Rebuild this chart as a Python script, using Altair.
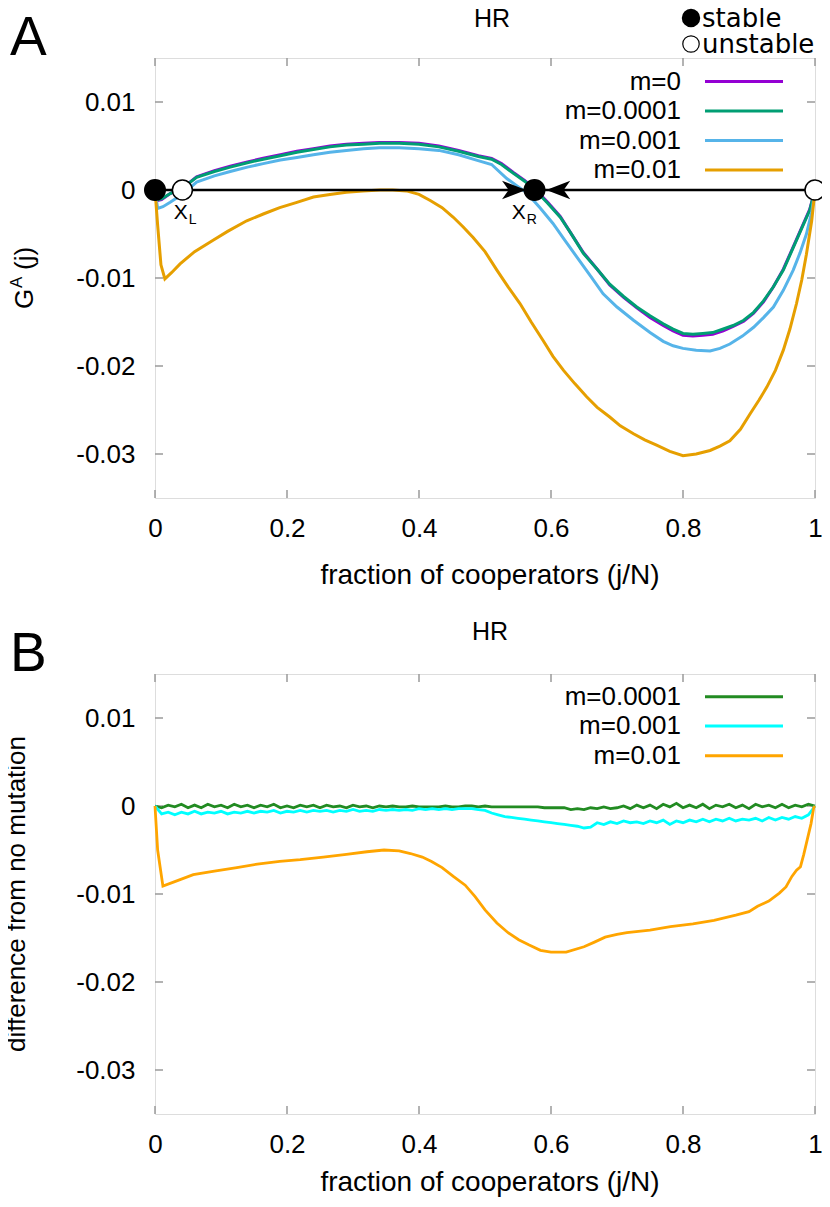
import altair as alt
import pandas as pd

FONT = "Liberation Sans"
KEYFONT = "DejaVu Sans"
W, H = 660, 440
Y_DOMAIN = [-0.035, 0.015]

x_ticks = [0.0, 0.2, 0.4, 0.6, 0.8, 1.0]
y_ticks = [-0.03, -0.02, -0.01, 0.0, 0.01]

# ---------------- Panel A: G^A(j), values in units of 1e-3 ----------------
a_names = ["m=0", "m=0.0001", "m=0.001", "m=0.01"]
a_colors = ["#9400d3", "#009e73", "#56b4e9", "#e69f00"]

a_f_01 = [0, 0.004, 0.01, 0.023, 0.043, 0.063, 0.09, 0.114, 0.14, 0.164,
          0.19, 0.215, 0.24, 0.265, 0.29, 0.316, 0.34, 0.37, 0.40, 0.43,
          0.46, 0.49, 0.51, 0.525, 0.543, 0.56, 0.576, 0.595, 0.614, 0.63,
          0.649, 0.67, 0.689, 0.71, 0.73, 0.75, 0.77, 0.785, 0.80, 0.815,
          0.83, 0.845, 0.861, 0.876, 0.892, 0.907, 0.922, 0.937, 0.952, 0.962,
          0.972, 0.982, 0.992, 1.0]
a_m0 = [0, -1.2, -1.1, -0.4, 0.3, 1.5, 2.2, 2.7, 3.2, 3.6,
        4.0, 4.4, 4.7, 5.0, 5.2, 5.3, 5.4, 5.4, 5.3, 5.0,
        4.5, 3.9, 3.6, 3.0, 2.0, 1.1, 0.1, -1.4, -3.0, -4.9,
        -7.1, -9.0, -10.8, -12.2, -13.4, -14.5, -15.4, -16.0, -16.5, -16.6,
        -16.5, -16.4, -16.0, -15.5, -14.9, -14.0, -12.7, -11.0, -9.0, -7.3,
        -5.6, -3.9, -2.2, 0]
a_m0001 = [0, -1.1, -1.0, -0.4, 0.3, 1.45, 2.1, 2.6, 3.1, 3.5,
           3.9, 4.3, 4.6, 4.9, 5.1, 5.2, 5.3, 5.3, 5.2, 4.9,
           4.4, 3.8, 3.5, 2.9, 1.9, 1.0, 0.0, -1.5, -3.1, -4.9,
           -7.2, -9.0, -10.7, -12.1, -13.3, -14.3, -15.2, -15.8, -16.3, -16.4,
           -16.3, -16.2, -15.8, -15.4, -14.8, -13.9, -12.6, -11.0, -9.1, -7.4,
           -5.7, -4.0, -2.3, 0]

a_f_001 = [0, 0.004, 0.012, 0.023, 0.043, 0.063, 0.09, 0.114, 0.14, 0.164,
           0.19, 0.215, 0.24, 0.265, 0.29, 0.316, 0.34, 0.37, 0.40, 0.43,
           0.46, 0.487, 0.51, 0.533, 0.548, 0.563, 0.583, 0.603, 0.62, 0.639,
           0.66, 0.679, 0.70, 0.725, 0.75, 0.77, 0.785, 0.80, 0.82, 0.841,
           0.856, 0.871, 0.89, 0.907, 0.922, 0.937, 0.952, 0.967, 0.977, 0.987,
           0.995, 1.0]
a_m001 = [0, -2.1, -1.9, -1.4, -0.4, 0.9, 1.6, 2.1, 2.6, 3.0,
          3.4, 3.7, 4.0, 4.3, 4.5, 4.7, 4.8, 4.8, 4.7, 4.5,
          4.0, 3.4, 2.9, 1.3, 0.5, -0.3, -2.0, -3.8, -5.6, -7.6,
          -9.8, -11.8, -13.3, -14.8, -16.2, -17.2, -17.7, -18.0, -18.2, -18.3,
          -18.0, -17.5, -16.6, -15.6, -14.5, -13.3, -11.4, -9.1, -7.2, -5.0,
          -2.5, 0]

a_f_01b = [0, 0.004, 0.009, 0.015, 0.025, 0.038, 0.06, 0.088, 0.11, 0.139,
           0.165, 0.189, 0.215, 0.24, 0.265, 0.29, 0.315, 0.341, 0.36, 0.381,
           0.40, 0.417, 0.435, 0.452, 0.467, 0.482, 0.5, 0.518, 0.535, 0.553,
           0.57, 0.588, 0.603, 0.619, 0.636, 0.654, 0.67, 0.689, 0.705, 0.725,
           0.742, 0.76, 0.78, 0.80, 0.82, 0.841, 0.856, 0.871, 0.887, 0.902,
           0.915, 0.927, 0.94, 0.952, 0.962, 0.972, 0.98, 0.987, 0.995, 1.0]
a_m01 = [0, -4.0, -8.5, -10.1, -9.4, -8.4, -7.0, -5.7, -4.7, -3.5,
         -2.7, -2.0, -1.4, -0.8, -0.5, -0.25, -0.1, 0.0, 0.0, -0.1,
         -0.5, -1.2, -2.0, -3.1, -4.2, -5.4, -7.0, -9.1, -11.0, -12.9,
         -15.0, -17.1, -18.9, -20.5, -22.0, -23.5, -24.7, -25.8, -26.8, -27.7,
         -28.4, -29.0, -29.7, -30.2, -30.0, -29.6, -29.1, -28.5, -27.2, -25.4,
         -23.9, -22.4, -20.5, -18.2, -15.8, -12.9, -10.2, -7.3, -3.5, 0]

# fixed points and flow arrows on G=0
stable_f = [0.0, 0.575]
unstable_f = [0.0415, 1.0]
arrow_right_f = [0.544]
arrow_left_f = [0.611]
xlabel_f = [0.039, 0.551]
xlabel_sub = ["L", "R"]

# ---------------- Panel B: difference from no mutation (1e-3) ----------------
b_names = ["m=0.0001", "m=0.001", "m=0.01"]
b_colors = ["#228b22", "#00ffff", "#ffa500"]

b_f_grid = [0.00, 0.01, 0.02, 0.03, 0.04, 0.05, 0.06, 0.07, 0.08, 0.09,
            0.10, 0.11, 0.12, 0.13, 0.14, 0.15, 0.16, 0.17, 0.18, 0.19,
            0.20, 0.21, 0.22, 0.23, 0.24, 0.25, 0.26, 0.27, 0.28, 0.29,
            0.30, 0.31, 0.32, 0.33, 0.34, 0.35, 0.36, 0.37, 0.38, 0.39,
            0.40, 0.41, 0.42, 0.43, 0.44, 0.45, 0.46, 0.47, 0.48, 0.49,
            0.50, 0.51, 0.52, 0.53, 0.54, 0.55, 0.56, 0.57, 0.58, 0.59,
            0.60, 0.61, 0.62, 0.63, 0.64, 0.65, 0.66, 0.67, 0.68, 0.69,
            0.70, 0.71, 0.72, 0.73, 0.74, 0.75, 0.76, 0.77, 0.78, 0.79,
            0.80, 0.81, 0.82, 0.83, 0.84, 0.85, 0.86, 0.87, 0.88, 0.89,
            0.90, 0.91, 0.92, 0.93, 0.94, 0.95, 0.96, 0.97, 0.98, 0.99,
            1.00]
b_m0001 = [0, -0.2, 0.1, -0.1, 0.2, -0.2, 0.1, -0.2, 0.2, -0.1,
           0.1, -0.2, 0.2, -0.1, 0.1, -0.2, 0.1, -0.1, 0.2, -0.2,
           0.0, -0.2, 0.1, -0.1, 0.1, -0.2, 0.1, -0.1, 0.0, -0.2,
           0.1, -0.1, 0.0, -0.2, 0.0, -0.1, 0.0, -0.1, -0.1, 0.0,
           -0.1, -0.1, -0.1, -0.1, 0.0, -0.1, -0.1, 0.0, 0.0, -0.1,
           0.0, -0.1, -0.1, -0.1, -0.1, -0.1, -0.1, -0.1, -0.1, -0.2,
           -0.2, -0.2, -0.2, -0.4, -0.3, -0.4, -0.2, -0.3, -0.1, -0.3,
           -0.2, 0.0, -0.3, 0.1, -0.2, 0.1, -0.3, 0.2, -0.1, 0.3,
           -0.2, 0.1, -0.2, 0.2, -0.3, 0.1, -0.1, 0.2, -0.2, 0.1,
           -0.3, 0.2, -0.1, 0.1, -0.2, 0.2, -0.2, 0.1, -0.1, 0.2,
           0.0]
b_m001 = [0, -0.9, -0.7, -1.0, -0.7, -0.9, -0.6, -0.9, -0.7, -0.8,
          -0.6, -0.9, -0.7, -0.8, -0.6, -0.8, -0.6, -0.7, -0.5, -0.8,
          -0.6, -0.7, -0.5, -0.7, -0.5, -0.6, -0.5, -0.7, -0.5, -0.6,
          -0.4, -0.6, -0.5, -0.6, -0.4, -0.5, -0.4, -0.5, -0.4, -0.5,
          -0.3, -0.4, -0.3, -0.4, -0.3, -0.4, -0.3, -0.3, -0.3, -0.4,
          -0.5, -0.8, -1.0, -1.2, -1.3, -1.4, -1.5, -1.6, -1.7, -1.8,
          -1.9, -2.0, -2.1, -2.2, -2.3, -2.5, -2.4, -1.9, -2.1, -1.8,
          -2.0, -1.7, -1.9, -1.8, -2.0, -1.7, -1.9, -1.6, -2.1, -1.7,
          -1.9, -1.6, -1.8, -1.5, -1.8, -1.5, -1.7, -1.4, -1.7, -1.5,
          -1.6, -1.4, -1.7, -1.3, -1.6, -1.3, -1.5, -1.2, -1.4, -1.0,
          0]

b_f_01 = [0, 0.004, 0.012, 0.03, 0.058, 0.09, 0.124, 0.155, 0.189, 0.22,
          0.255, 0.29, 0.321, 0.347, 0.37, 0.387, 0.405, 0.419, 0.435, 0.452,
          0.47, 0.485, 0.50, 0.518, 0.535, 0.551, 0.567, 0.584, 0.60, 0.623,
          0.65, 0.665, 0.682, 0.70, 0.715, 0.75, 0.781, 0.815, 0.847, 0.88,
          0.90, 0.913, 0.93, 0.946, 0.956, 0.965, 0.972, 0.978, 0.983, 0.988,
          0.994, 0.998, 1.0]
b_m01 = [0, -5.0, -9.1, -8.6, -7.8, -7.4, -7.0, -6.6, -6.3, -6.1,
         -5.8, -5.5, -5.2, -5.0, -5.1, -5.4, -5.8, -6.3, -7.0, -8.0,
         -9.0, -10.3, -11.8, -13.3, -14.4, -15.2, -15.8, -16.4, -16.6, -16.6,
         -16.0, -15.5, -14.9, -14.6, -14.4, -14.1, -13.7, -13.4, -13.0, -12.4,
         -12.0, -11.4, -10.8, -9.9, -9.2, -8.0, -7.3, -6.9, -5.5, -3.9,
         -2.0, -0.2, 0]


def sdf(xs, ys):
    return pd.DataFrame({"f": xs, "g": [v * 1e-3 for v in ys]})


one = pd.DataFrame({"k": [0]})

x_scale = alt.Scale(domain=[0, 1], nice=False, zero=False)
y_scale = alt.Scale(domain=Y_DOMAIN, nice=False, zero=False)

x_axis = alt.Axis(values=x_ticks, format="~g", labelFont=FONT, labelFontSize=26,
                  labelColor="black", labelPadding=17, ticks=False, tickSize=0,
                  domain=False, grid=False, labelFlush=False, labelOverlap=False,
                  title=None)
y_axis = alt.Axis(values=y_ticks,
                  labelExpr="datum.value == 0 ? '0' : (datum.value < 0 ? '-' : '') + format(abs(datum.value), '.2f')",
                  labelFont=FONT, labelFontSize=26, labelColor="black",
                  labelPadding=20, ticks=False, tickSize=0, domain=False,
                  grid=False, labelOverlap=False, title=None)


def X(field="f"):
    return alt.X(f"{field}:Q", scale=x_scale, axis=x_axis)


def Y(field="g"):
    return alt.Y(f"{field}:Q", scale=y_scale, axis=y_axis)


def tick_layers():
    yt = pd.DataFrame({"t": y_ticks})
    xt = pd.DataFrame({"t": x_ticks})
    tc = "#9a9a9a"
    return [
        alt.Chart(yt).mark_rule(color=tc, strokeWidth=1.5).encode(
            y=Y("t"), x=alt.value(0), x2=alt.value(8)),
        alt.Chart(yt).mark_rule(color=tc, strokeWidth=1.5).encode(
            y=Y("t"), x=alt.value(W - 8), x2=alt.value(W)),
        alt.Chart(xt).mark_rule(color=tc, strokeWidth=1.5).encode(
            x=X("t"), y=alt.value(0), y2=alt.value(8)),
        alt.Chart(xt).mark_rule(color=tc, strokeWidth=1.5).encode(
            x=X("t"), y=alt.value(H - 8), y2=alt.value(H)),
    ]


def txt(s, x, y, size=26, align="left", baseline="alphabetic", angle=0, font=FONT):
    kw = dict(text=s, font=font, fontSize=size, align=align, baseline=baseline, color="black")
    if angle:
        kw["angle"] = angle
    return alt.Chart(one).mark_text(**kw).encode(x=alt.value(x), y=alt.value(y))


def legend_layers(names, colors, rows):
    out = []
    for n, c, r in zip(names, colors, rows):
        out.append(txt(n, 526, r, size=26, align="right", baseline="middle"))
        out.append(alt.Chart(one).mark_rule(color=c, strokeWidth=3).encode(
            x=alt.value(550), x2=alt.value(628), y=alt.value(r)))
    return out


# ---------------- build panel A ----------------
a_series = [(a_f_01, a_m0), (a_f_01, a_m0001), (a_f_001, a_m001), (a_f_01b, a_m01)]
a_layers = tick_layers()
for (xs, ys), c in zip(a_series, a_colors):
    a_layers.append(alt.Chart(sdf(xs, ys)).mark_line(color=c, strokeWidth=3).encode(
        x=X(), y=Y(), order="f:Q"))

zero_df = pd.DataFrame({"f": [0.0], "f2": [1.0], "g": [0.0]})
a_layers.append(alt.Chart(zero_df).mark_rule(color="black", strokeWidth=2.5).encode(
    x=X(), x2="f2:Q", y=Y()))

arrow_r = "M -1 -0.78 L 1 0 L -1 0.78 L -0.45 0 Z"
arrow_l = "M 1 -0.78 L -1 0 L 1 0.78 L 0.45 0 Z"
a_layers.append(alt.Chart(pd.DataFrame({"f": arrow_right_f, "g": [0.0]})).mark_point(
    shape=arrow_r, filled=True, color="black", size=576, opacity=1).encode(x=X(), y=Y()))
a_layers.append(alt.Chart(pd.DataFrame({"f": arrow_left_f, "g": [0.0]})).mark_point(
    shape=arrow_l, filled=True, color="black", size=576, opacity=1).encode(x=X(), y=Y()))

a_layers.append(alt.Chart(pd.DataFrame({"f": stable_f, "g": [0.0, 0.0]})).mark_point(
    shape="circle", filled=True, fill="black", stroke="black", strokeWidth=1.5,
    size=420, opacity=1).encode(x=X(), y=Y()))
a_layers.append(alt.Chart(pd.DataFrame({"f": unstable_f, "g": [0.0, 0.0]})).mark_point(
    shape="circle", filled=True, fill="white", stroke="black", strokeWidth=1.5,
    size=400, opacity=1).encode(x=X(), y=Y()))

xl_df = pd.DataFrame({"f": xlabel_f, "g": [0.0, 0.0], "sub": xlabel_sub})
a_layers.append(alt.Chart(xl_df).mark_text(
    text="X", font=FONT, fontSize=21, align="center", baseline="alphabetic", dy=29,
    color="black").encode(x=X(), y=Y()))
a_layers.append(alt.Chart(xl_df).mark_text(
    font=FONT, fontSize=14, align="left", baseline="alphabetic", dx=8, dy=34,
    color="black").encode(x=X(), y=Y(), text="sub:N"))

a_layers += legend_layers(a_names, a_colors, [23.5, 53, 82.5, 112])

# annotations around panel A
a_layers.append(txt("A", -145, -3, size=55))
a_layers.append(txt("HR", 337, -31, size=25, align="center"))
a_layers.append(alt.Chart(one).mark_point(shape="circle", filled=True, fill="black",
                stroke="black", size=270, opacity=1).encode(x=alt.value(536), y=alt.value(-40)))
a_layers.append(alt.Chart(one).mark_point(shape="circle", filled=True, fill="white",
                stroke="black", strokeWidth=1.2, size=270, opacity=1).encode(
                x=alt.value(536), y=alt.value(-14)))
a_layers.append(txt("stable", 547, -31, size=26, font=KEYFONT))
a_layers.append(txt("unstable", 547, -5, size=26, font=KEYFONT))
a_layers.append(txt("G", -122, 251, size=26, angle=270))
a_layers.append(txt("A", -133, 230, size=17, angle=270))
a_layers.append(txt("(j)", -122, 212, size=26, angle=270))
a_layers.append(txt("fraction of cooperators (j/N)", 335, 526, size=28, align="center"))

panel_a = alt.layer(*a_layers).properties(width=W, height=H)

# ---------------- build panel B ----------------
b_series = [(b_f_grid, b_m0001), (b_f_grid, b_m001), (b_f_01, b_m01)]
b_layers = tick_layers()
for (xs, ys), c in zip(b_series, b_colors):
    b_layers.append(alt.Chart(sdf(xs, ys)).mark_line(color=c, strokeWidth=2.8).encode(
        x=X(), y=Y(), order="f:Q"))
b_layers += legend_layers(b_names, b_colors, [22.7, 52, 81.7])
b_layers.append(txt("B", -145, -3, size=55))
b_layers.append(txt("HR", 335, -34, size=25, align="center"))
b_layers.append(txt("difference from no mutation", -130, 220, size=26, align="center", angle=270))
b_layers.append(txt("fraction of cooperators (j/N)", 335, 517, size=28, align="center"))

panel_b = alt.layer(*b_layers).properties(width=W, height=H)

chart = alt.vconcat(panel_a, panel_b, spacing=176, bounds="flush").properties(
    padding={"left": 147, "top": 50, "right": 7, "bottom": 1141},
    autosize=alt.AutoSizeParams(type="none"),
).configure_view(stroke="#111111", strokeWidth=2).configure(background="white")

chart.save("out.html", embed_options={"renderer": "svg", "actions": False})
